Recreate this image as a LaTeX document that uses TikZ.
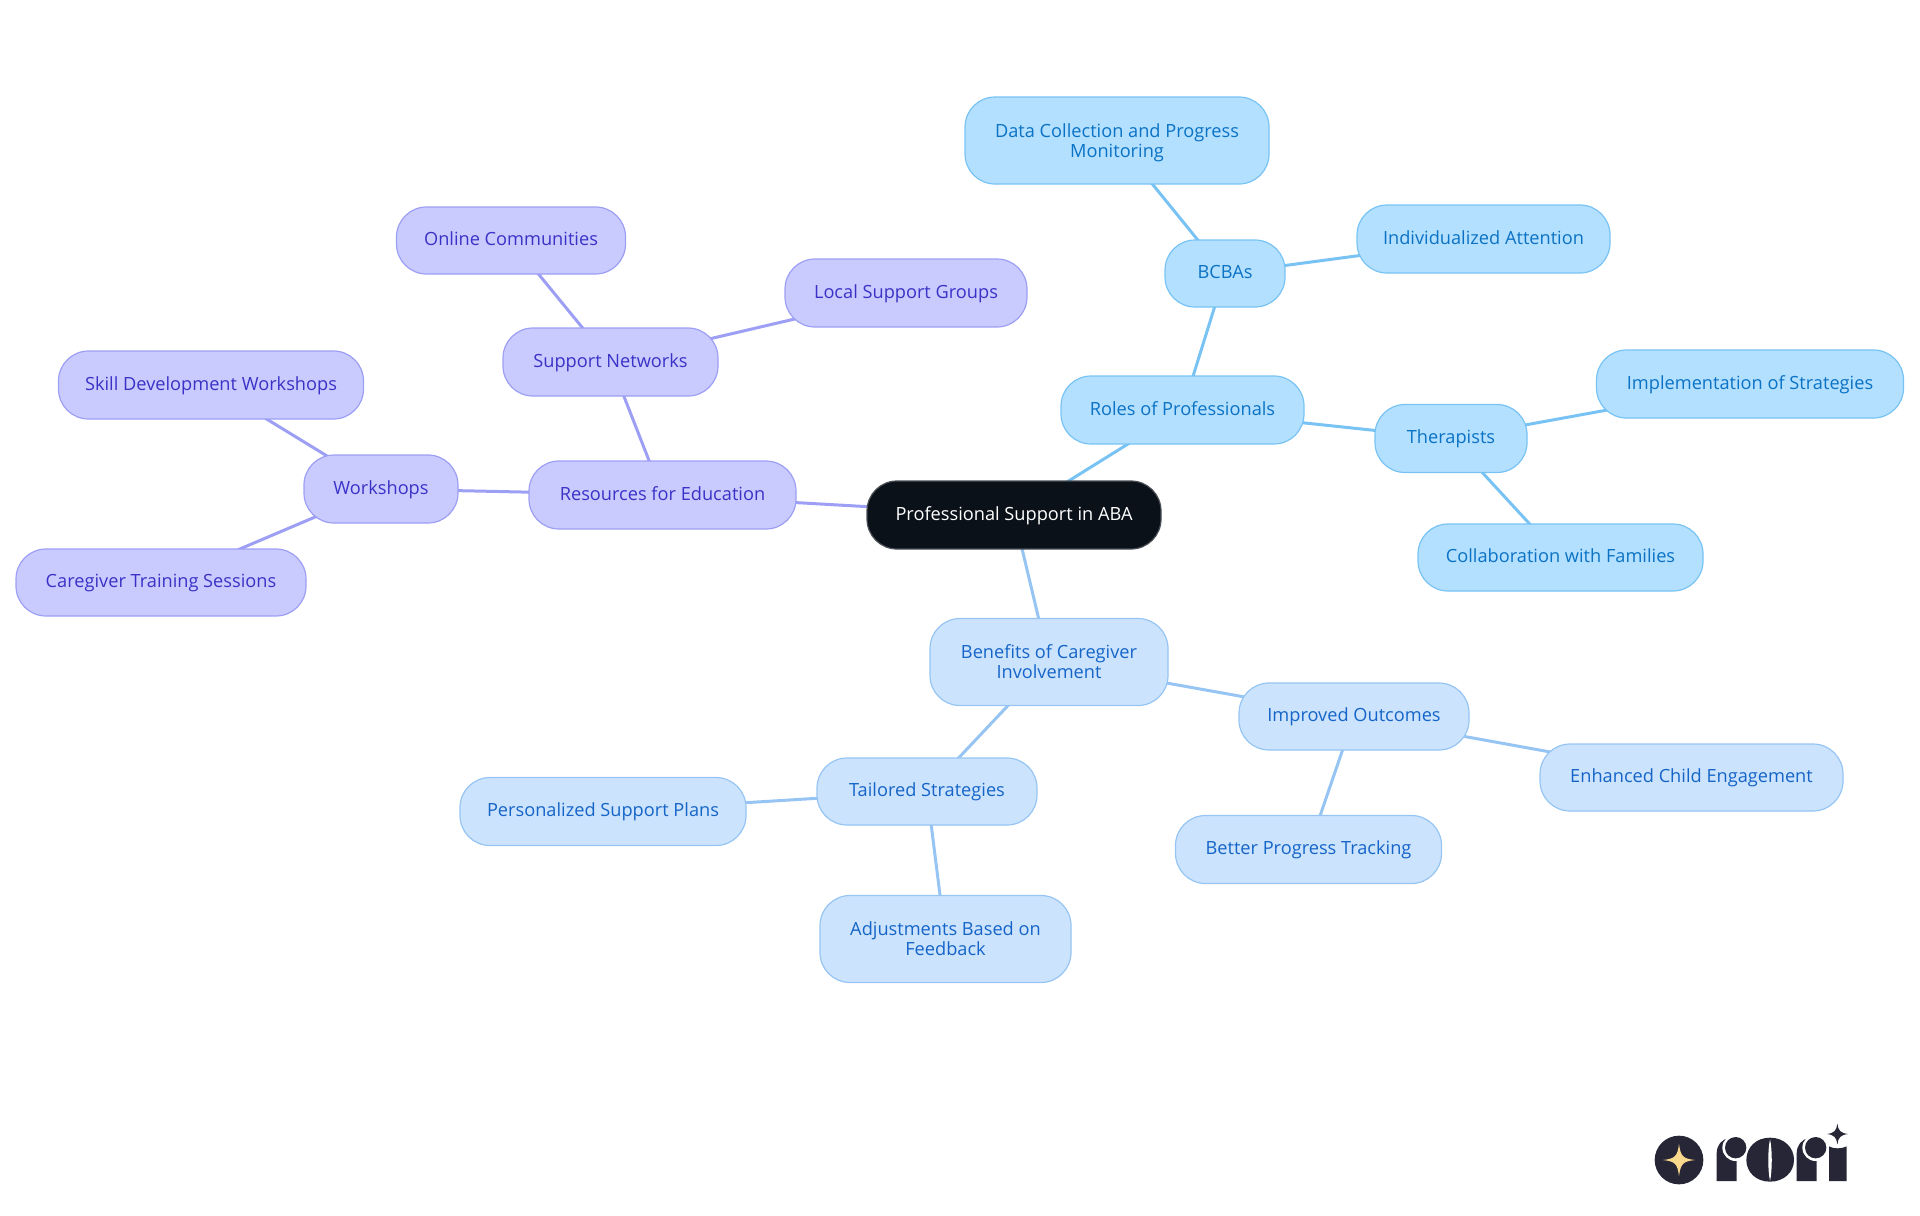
\documentclass[tikz,border=0pt]{standalone}
\usepackage{fontspec}
\setmainfont{Open Sans}
\usetikzlibrary{backgrounds}
\definecolor{rootfill}{HTML}{0A1119}
\definecolor{rootline}{HTML}{4A4F55}
\definecolor{purfill}{HTML}{C9CBFF}
\definecolor{purline}{HTML}{9C9FF3}
\definecolor{purtext}{HTML}{3A32C6}
\definecolor{skyfill}{HTML}{B3E0FF}
\definecolor{skyline}{HTML}{78C3F3}
\definecolor{skytext}{HTML}{0B72C4}
\definecolor{palefill}{HTML}{CCE3FD}
\definecolor{paleline}{HTML}{96C5F3}
\definecolor{paletext}{HTML}{1565C8}
\definecolor{logodark}{HTML}{272636}
\definecolor{logogold}{HTML}{FBD98C}
\newcommand\linestrut{\rule[-2.5pt]{0pt}{10pt}}
\newcommand\firststrut{\rule{0pt}{9pt}}
\tikzset{
  box/.style n args={2}{draw,rectangle,rounded corners=15pt,line width=.6pt,inner sep=0pt,align=center,
    font=\fontsize{9.1}{10}\selectfont,minimum width=#1*0.5pt,minimum height=#2*0.5pt,
    execute at begin node=\linestrut},
  rootbox/.style 2 args={box={#1}{#2},fill=rootfill,draw=rootline,text=white},
  purbox/.style 2 args={box={#1}{#2},fill=purfill,draw=purline,text=purtext},
  skybox/.style 2 args={box={#1}{#2},fill=skyfill,draw=skyline,text=skytext},
  palebox/.style 2 args={box={#1}{#2},fill=palefill,draw=paleline,text=paletext},
  puredge/.style={draw=purline,line width=1.5pt},
  skyedge/.style={draw=skyline,line width=1.5pt},
  paleedge/.style={draw=paleline,line width=1.5pt}
}
\begin{document}
\begin{tikzpicture}[x=0.5pt,y=-0.5pt]
\useasboundingbox (0,0) rectangle (1920,1215);
\node[rootbox={294}{68}] (root) at (1014,515) {Professional Support in ABA};
\node[purbox={267}{68}] (res) at (662.5,495) {Resources for Education};
\node[purbox={215}{68}] (sup) at (610.5,362) {Support Networks};
\node[purbox={229}{67}] (onl) at (511,240.5) {Online Communities};
\node[purbox={242}{68}] (loc) at (906,293) {Local Support Groups};
\node[purbox={154}{68}] (wor) at (381,489) {Workshops};
\node[purbox={305}{68}] (ski) at (211,385) {Skill Development Workshops};
\node[purbox={290}{67}] (car) at (161,582.5) {Caregiver Training Sessions};
\node[skybox={243}{68}] (rol) at (1182.5,410) {Roles of Professionals};
\node[skybox={120}{67}] (bcb) at (1225,273.5) {BCBAs};
\node[skybox={304}{87}] (dat) at (1117,140.5) {\firststrut Data Collection and Progress\\\linestrut Monitoring};
\node[skybox={253}{68}] (ind) at (1483.5,239) {Individualized Attention};
\node[skybox={152}{68}] (the) at (1451,438.5) {Therapists};
\node[skybox={307}{68}] (imp) at (1750,384) {Implementation of Strategies};
\node[skybox={285}{67}] (col) at (1560.5,557.5) {Collaboration with Families};
\node[palebox={238}{87}] (ben) at (1049,662) {\firststrut Benefits of Caregiver\\\linestrut Involvement};
\node[palebox={230}{67}] (imo) at (1354,716.5) {Improved Outcomes};
\node[palebox={303}{67}] (enh) at (1691.5,777.5) {Enhanced Child Engagement};
\node[palebox={266}{68}] (bet) at (1308.5,849.5) {Better Progress Tracking};
\node[palebox={220}{67}] (tai) at (927,791.5) {Tailored Strategies};
\node[palebox={286}{68}] (per) at (603,811.5) {Personalized Support Plans};
\node[palebox={251}{87}] (adj) at (945.5,939) {\firststrut Adjustments Based on\\\linestrut Feedback};
\begin{pgfonlayer}{background}
\draw[puredge] (root.center) -- (res.center);
\draw[puredge] (res.center) -- (sup.center);
\draw[puredge] (sup.center) -- (onl.center);
\draw[puredge] (sup.center) -- (loc.center);
\draw[puredge] (res.center) -- (wor.center);
\draw[puredge] (wor.center) -- (ski.center);
\draw[puredge] (wor.center) -- (car.center);
\draw[skyedge] (root.center) -- (rol.center);
\draw[skyedge] (rol.center) -- (bcb.center);
\draw[skyedge] (bcb.center) -- (dat.center);
\draw[skyedge] (bcb.center) -- (ind.center);
\draw[skyedge] (rol.center) -- (the.center);
\draw[skyedge] (the.center) -- (imp.center);
\draw[skyedge] (the.center) -- (col.center);
\draw[paleedge] (root.center) -- (ben.center);
\draw[paleedge] (ben.center) -- (imo.center);
\draw[paleedge] (imo.center) -- (enh.center);
\draw[paleedge] (imo.center) -- (bet.center);
\draw[paleedge] (ben.center) -- (tai.center);
\draw[paleedge] (tai.center) -- (per.center);
\draw[paleedge] (tai.center) -- (adj.center);
\end{pgfonlayer}
% logo
\begin{scope}[shift={(1620,1100)},x=0.16667pt,y=-0.16667pt]
\fill[logodark] (177,180) circle[radius=73];
\fill[logogold] (177,132) .. controls (182,168) and (188,176) .. (225,180) .. controls (188,184) and (182,192) .. (177,228) .. controls (172,192) and (166,184) .. (129,180) .. controls (166,176) and (172,168) .. (177,132) -- cycle;
% first r
\fill[logodark] (290,243) -- (290,160) .. controls (290,135) and (305,118) .. (327,114) -- (350,180) -- (350,243) -- cycle;
\fill[white] (347,143) circle[radius=40];
\fill[logodark] (347,143) circle[radius=32];
% o
\fill[logodark] (450,113) .. controls (492,113) and (522,142) .. (522,180) .. controls (522,216) and (492,245) .. (450,245) .. controls (408,245) and (379,216) .. (379,180) .. controls (379,142) and (408,113) .. (450,113) -- cycle;
\fill[white] (450,118) .. controls (457,150) and (457,210) .. (450,243) .. controls (443,210) and (443,150) .. (450,118) -- cycle;
% second r
\fill[logodark] (530,243) -- (530,160) .. controls (530,135) and (545,118) .. (567,114) -- (590,180) -- (590,243) -- cycle;
\fill[white] (587,143) circle[radius=40];
\fill[logodark] (587,143) circle[radius=32];
% i
\fill[logodark] (627,243) -- (627,139) .. controls (640,147) and (665,147) .. (680,139) -- (680,243) -- cycle;
\fill[logodark] (652,71) .. controls (655,92) and (661,99) .. (684,102) .. controls (661,105) and (655,112) .. (652,133) .. controls (649,112) and (643,105) .. (621,102) .. controls (643,99) and (649,92) .. (652,71) -- cycle;
\end{scope}
\end{tikzpicture}
\end{document}
